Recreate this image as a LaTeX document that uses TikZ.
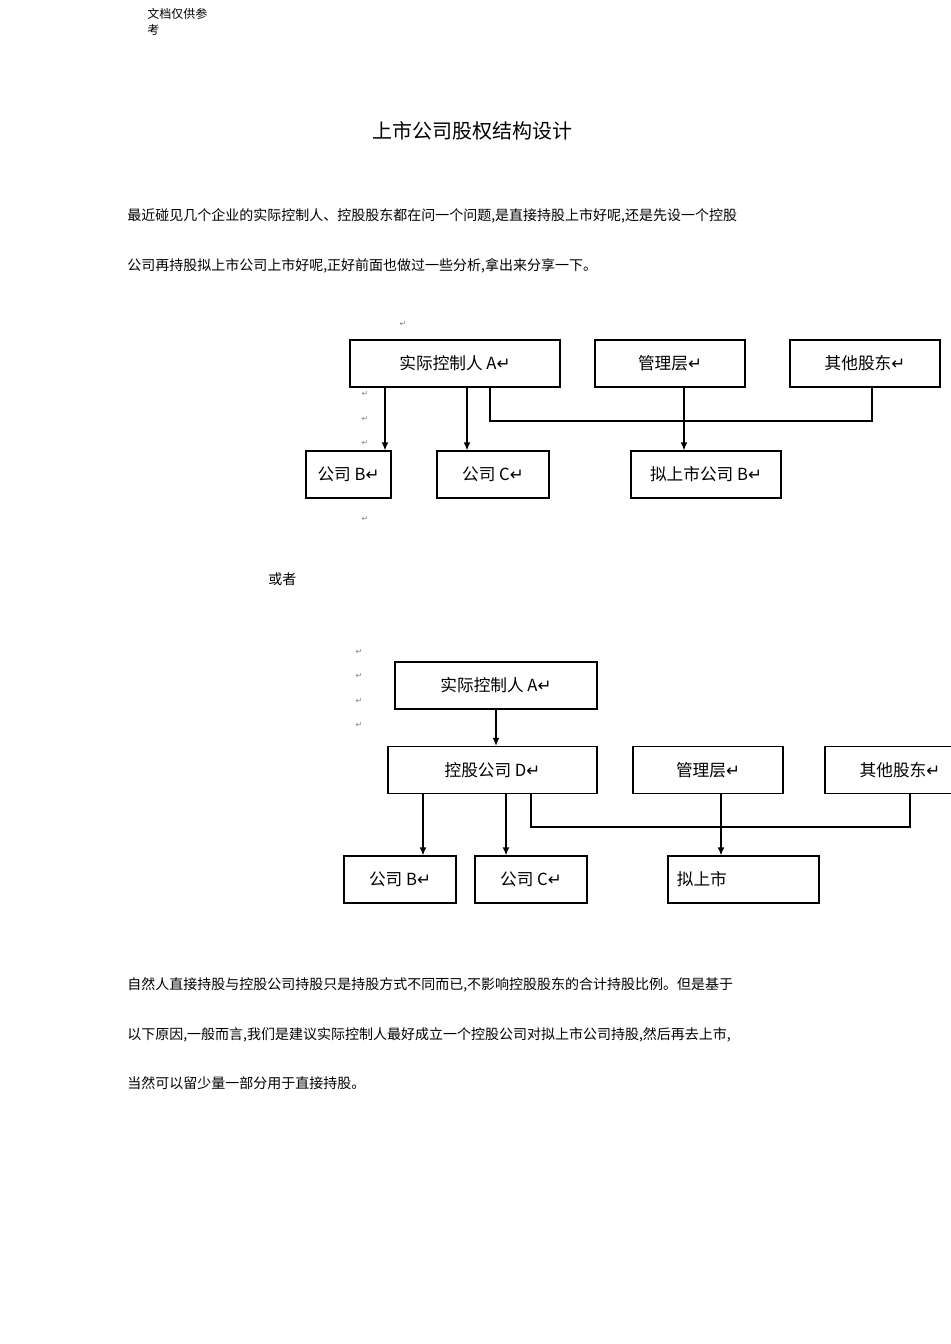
\documentclass[tikz,border=0pt]{standalone}
\usepackage{fontspec}
\setmainfont{Noto Sans CJK SC}
\newfontfamily\symf{DejaVu Sans}
\begin{document}
\begin{tikzpicture}[x=0.75pt,y=-0.75pt,
  bx/.style={draw,line width=0.9pt,minimum height=35.25pt,inner sep=0pt,font=\fontsize{12.5}{14}\selectfont},
  ln/.style={line width=0.9pt},
  ar/.style={ln,-{Latex[length=6pt,width=5pt]}},
  pm/.style={font=\symf\fontsize{6}{7}\selectfont,text=gray,inner sep=0pt},
  tx/.style={anchor=west,inner sep=0pt,font=\fontsize{10.5}{12}\selectfont}]
\usetikzlibrary{arrows.meta}
\useasboundingbox (0,0) rectangle (950,1344);
% header
\node[anchor=west,inner sep=0pt,font=\fontsize{9}{10}\selectfont] (h1) at (147,14) {文档仅供参};
\node[anchor=west,inner sep=0pt,font=\fontsize{9}{10}\selectfont] (h2) at (147,30) {考};
\node[inner sep=0pt,font=\fontsize{15}{17}\selectfont] (title) at (472,131) {上市公司股权结构设计};
\node[tx] (p1) at (127,216) {最近碰见几个企业的实际控制人、控股股东都在问一个问题,是直接持股上市好呢,还是先设一个控股};
\node[tx] (p2) at (127,266) {公司再持股拟上市公司上市好呢,正好前面也做过一些分析,拿出来分享一下。};
% diagram 1
\node[bx,minimum width=157.5pt] (a1) at (455,363.5) {实际控制人 A\symf↵};
\node[bx,minimum width=112.5pt] (m1) at (670,363.5) {管理层\symf↵};
\node[bx,minimum width=112.5pt] (o1) at (865,363.5) {其他股东\symf↵};
\node[bx,minimum width=63.75pt] (b1) at (348.5,474.5) {公司 B\symf↵};
\node[bx,minimum width=84pt] (c1) at (493,474.5) {公司 C\symf↵};
\node[bx,minimum width=112.5pt] (l1) at (706,474.5) {拟上市公司 B\symf↵};
\draw[ar] (a1.south -| 385,0) -- (b1.north -| 385,0);
\draw[ar] (a1.south -| 467,0) -- (c1.north -| 467,0);
\draw[ar] (m1.south -| 684,0) -- (l1.north -| 684,0);
\coordinate (k1) at (490,421);
\coordinate (k2) at (872,421);
\draw[ln,line width=1.4pt] (a1.south -| k1) -- (k1) -- (k2) -- (o1.south -| k2);
\node[pm] (r1) at (403,324) {↵};
\node[pm] (r2) at (365,394) {↵};
\node[pm] (r3) at (365,419) {↵};
\node[pm] (r4) at (365,443) {↵};
\node[pm] (r5) at (365,519) {↵};
\node[tx] (or) at (268,579) {或者};
% diagram 2
\node[bx,minimum width=151.5pt] (a2) at (496,685.5) {实际控制人 A\symf↵};
\node[bx,minimum width=156.75pt] (d2) at (492.5,770) {控股公司 D\symf↵};
\node[bx,minimum width=112.5pt] (m2) at (708,770) {管理层\symf↵};
\node[bx,minimum width=112.5pt] (o2) at (900,770) {其他股东\symf↵};
\node[bx,minimum width=84pt] (b2) at (400,879.5) {公司 B\symf↵};
\node[bx,minimum width=84pt] (c2) at (531,879.5) {公司 C\symf↵};
\node[bx,minimum width=113.25pt,text width=100pt,align=left] (l2) at (743.5,879.5) {拟上市};
\draw[ar] (a2) -- (d2.north -| a2);
\draw[ar] (d2.south -| 423,0) -- (b2.north -| 423,0);
\draw[ar] (d2.south -| 506,0) -- (c2.north -| 506,0);
\draw[ar] (m2.south -| 721,0) -- (l2.north -| 721,0);
\coordinate (k3) at (531,827);
\coordinate (k4) at (910,827);
\draw[ln] (d2.south -| k3) -- (k3) -- (k4) -- (o2.south -| k4);
\node[pm] (s1) at (359,652) {↵};
\node[pm] (s2) at (359,676) {↵};
\node[pm] (s3) at (359,701) {↵};
\node[pm] (s4) at (359,725) {↵};
% bottom text
\node[tx] (q1) at (127,985) {自然人直接持股与控股公司持股只是持股方式不同而已,不影响控股股东的合计持股比例。但是基于};
\node[tx] (q2) at (127,1035) {以下原因,一般而言,我们是建议实际控制人最好成立一个控股公司对拟上市公司持股,然后再去上市,};
\node[tx] (q3) at (127,1083) {当然可以留少量一部分用于直接持股。};
\end{tikzpicture}
\end{document}
